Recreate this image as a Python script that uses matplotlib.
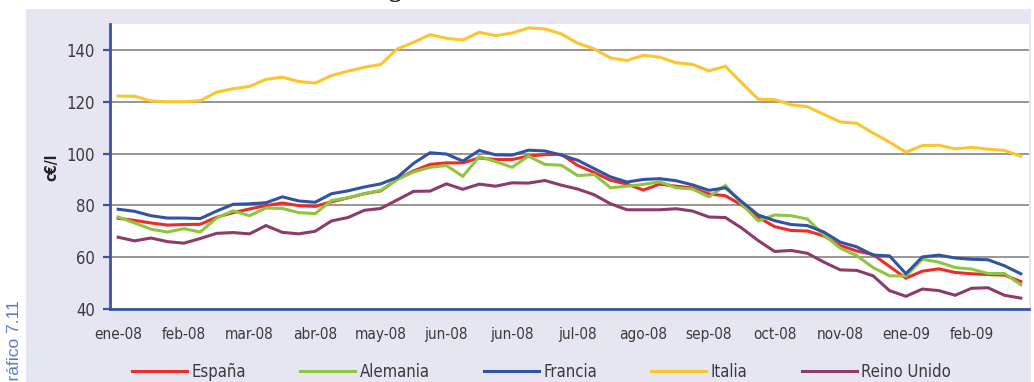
import numpy as np
import matplotlib
matplotlib.use("Agg")
import matplotlib.pyplot as plt
from matplotlib import font_manager
from matplotlib.patches import Rectangle

# weekly fuel prices, c€/l
etiquetas = ["ene-08", "feb-08", "mar-08", "abr-08", "may-08", "jun-08", "jun-08",
             "jul-08", "ago-08", "sep-08", "oct-08", "nov-08", "ene-09", "feb-09"]

espana = [75.0, 74.2, 73.2, 72.4, 72.6, 72.7, 75.4, 77.2, 78.6, 79.9, 80.9, 79.9, 79.6, 81.4,
          82.9, 84.5, 85.6, 90.1, 93.3, 95.8, 96.4, 96.4, 98.3, 97.7, 97.7, 99.0, 99.6, 99.7,
          95.4, 92.7, 89.7, 88.2, 85.9, 88.2, 87.4, 86.7, 84.4, 83.7, 80.1, 75.4, 71.8, 70.3,
          70.1, 68.2, 64.5, 62.4, 61.0, 56.4, 51.9, 54.6, 55.5, 54.1, 53.6, 53.3, 53.1, 50.6]

alemania = [75.5, 73.2, 70.8, 69.7, 71.0, 69.7, 75.1, 77.9, 76.0, 79.0, 78.8, 77.2, 76.8, 81.9,
            82.9, 84.5, 85.8, 90.0, 92.9, 94.7, 95.4, 91.2, 98.8, 96.9, 94.7, 99.0, 95.8, 95.5,
            91.5, 91.9, 86.8, 87.4, 88.1, 89.1, 86.8, 86.3, 83.3, 87.7, 80.5, 74.0, 76.3, 76.0,
            74.7, 68.6, 63.5, 60.6, 56.0, 52.8, 52.7, 59.2, 58.1, 56.0, 55.4, 53.7, 53.7, 49.4]

francia = [78.5, 77.7, 76.0, 75.1, 75.1, 74.9, 77.8, 80.4, 80.6, 81.0, 83.3, 81.7, 81.2, 84.5,
           85.6, 87.1, 88.3, 90.8, 96.2, 100.3, 99.8, 97.1, 101.2, 99.5, 99.4, 101.3, 101.0, 99.4,
           97.4, 94.2, 91.0, 89.0, 90.0, 90.3, 89.5, 87.9, 85.8, 86.8, 81.4, 76.3, 74.1, 72.6,
           72.2, 69.7, 65.8, 64.0, 60.8, 60.5, 53.6, 60.1, 60.8, 59.7, 59.2, 59.0, 56.7, 53.6]

italia = [122.2, 122.1, 120.3, 120.0, 120.0, 120.4, 123.7, 125.0, 125.9, 128.6, 129.5, 127.8,
          127.2, 130.1, 131.8, 133.3, 134.4, 140.4, 142.9, 145.9, 144.5, 143.8, 146.8, 145.5,
          146.5, 148.5, 148.1, 146.2, 142.6, 140.4, 136.9, 135.9, 137.9, 137.2, 135.0, 134.4,
          131.9, 133.7, 127.2, 121.0, 120.8, 118.8, 118.1, 115.1, 112.2, 111.7, 107.9, 104.4,
          100.5, 103.1, 103.2, 101.8, 102.4, 101.7, 101.2, 99.0]

reino_unido = [67.7, 66.3, 67.4, 66.0, 65.4, 67.2, 69.2, 69.5, 69.0, 72.2, 69.6, 69.0, 70.0, 74.0,
               75.3, 78.1, 78.8, 82.1, 85.4, 85.5, 88.3, 86.2, 88.2, 87.4, 88.7, 88.6, 89.6, 87.8,
               86.3, 84.1, 80.6, 78.3, 78.3, 78.3, 78.7, 77.8, 75.5, 75.3, 71.2, 66.4, 62.2, 62.6,
               61.5, 58.1, 55.1, 54.9, 52.8, 47.1, 44.9, 47.7, 47.1, 45.3, 48.0, 48.2, 45.3, 44.2]

series = [("España", espana, "#ee2b24"),
          ("Alemania", alemania, "#8dc63f"),
          ("Francia", francia, "#3253a3"),
          ("Italia", italia, "#fdc42b"),
          ("Reino Unido", reino_unido, "#8e3a6d")]

# narrow face for the axis text, if there is one
nombres = {f.name for f in font_manager.fontManager.ttflist}
if "Liberation Sans Narrow" in nombres:
    estrecha = dict(family="Liberation Sans Narrow")
else:
    estrecha = dict(family="DejaVu Sans", stretch="condensed")

azul = "#3b55a5"
gris_texto = "#3a3a3a"

fig = plt.figure(figsize=(10.34, 3.82), dpi=100)
fig.patch.set_facecolor("white")
fondo = Rectangle((26 / 1034, 0), (1031 - 26) / 1034, (382 - 9) / 382,
                  transform=fig.transFigure, facecolor="#e6e6f2",
                  edgecolor="none", zorder=-5)
fig.patches.append(fondo)

ax = fig.add_axes([110 / 1034, (382 - 309) / 382, 919 / 1034, 285 / 382])
ax.set_facecolor("white")

x = np.arange(len(espana))
for nombre, valores, color in series:
    ax.plot(x, valores, color=color, lw=2.2, label=nombre, solid_joinstyle="miter")

ax.set_xlim(-0.5, len(espana) - 0.5)
ax.set_ylim(40, 150)
ax.set_yticks([40, 60, 80, 100, 120, 140])
ax.yaxis.grid(True, color="#7a7a7a", lw=1.1)
ax.set_axisbelow(True)

ax.set_xticks(np.arange(0, len(espana), 4))
ax.set_xticklabels(etiquetas)

for lado in ["top", "right"]:
    ax.spines[lado].set_visible(False)
for lado in ["left", "bottom"]:
    ax.spines[lado].set_color(azul)
    ax.spines[lado].set_linewidth(2)

ax.tick_params(axis="y", direction="out", length=5, width=1.6, color=azul, pad=6,
               labelsize=12, labelcolor=gris_texto)
ax.tick_params(axis="x", length=0, pad=13, labelsize=11, labelcolor=gris_texto)
for t in ax.get_xticklabels() + ax.get_yticklabels():
    t.set(**estrecha)

fig.text(52 / 1034, 1 - 167 / 382, "c€/l", rotation=90, ha="center", va="center",
         fontsize=11, fontweight="bold", color="#222222", **estrecha)

fig.text(15 / 1034, (382 - 300) / 382, "Gráfico 7.11", rotation=90, ha="center", va="top",
         fontsize=12.5, color="#5b7cc4", family="Liberation Sans")

# title sits above the figure; only the descender shows
fig.text(395 / 1034, 1 + 3 / 382, "g", ha="center", va="baseline", fontsize=18,
         fontweight="bold", family="Liberation Serif", color="#222222")

leg = ax.legend(loc="center", bbox_to_anchor=(541.5 / 1034, 10 / 382),
                bbox_transform=fig.transFigure, ncol=5, frameon=False,
                handlelength=3.3, handletextpad=0.25, columnspacing=3.27,
                borderpad=0, prop=dict(size=12, **estrecha))
for t in leg.get_texts():
    t.set_color(gris_texto)

fig.savefig("out.png", dpi=100)
